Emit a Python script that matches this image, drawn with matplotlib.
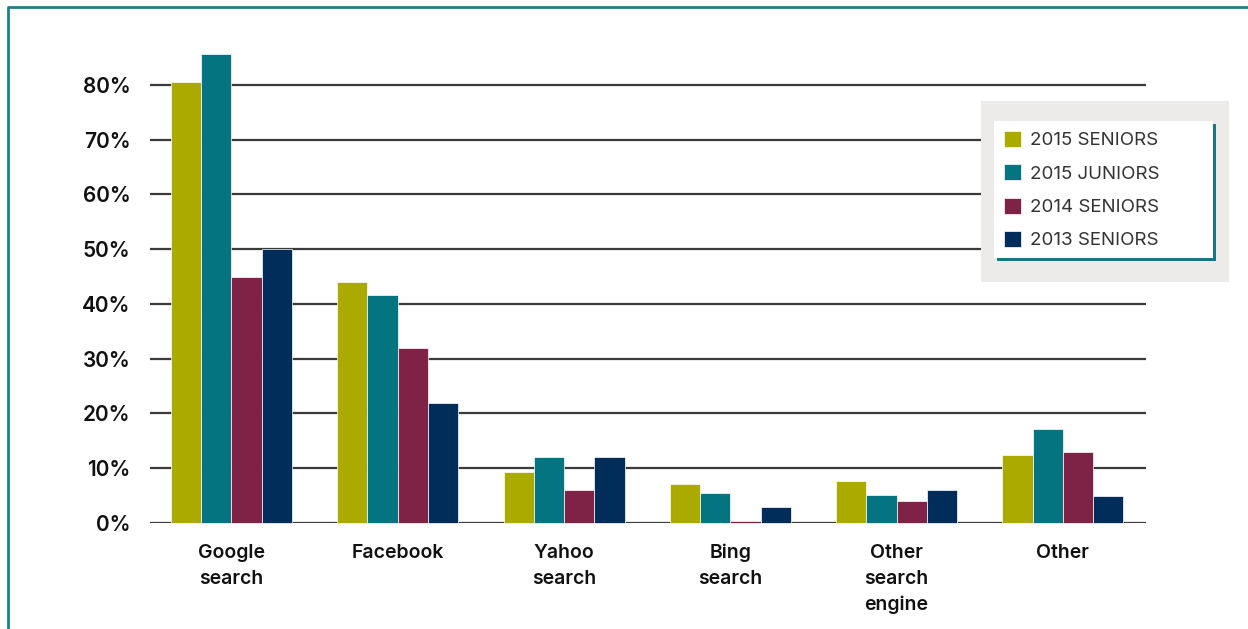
import matplotlib
matplotlib.use('Agg')
import matplotlib.pyplot as plt
from matplotlib.patches import Rectangle
import numpy as np

plt.rcParams['font.family'] = ['Inter', 'DejaVu Sans']

categories = ['Google\nsearch', 'Facebook', 'Yahoo\nsearch', 'Bing\nsearch',
              'Other\nsearch\nengine', 'Other']
series_names = ['2015 SENIORS', '2015 JUNIORS', '2014 SENIORS', '2013 SENIORS']
seniors_2015 = [80.5, 44.0, 9.3, 7.2, 7.7, 12.5]
juniors_2015 = [85.7, 41.6, 12.0, 5.5, 5.1, 17.2]
seniors_2014 = [44.9, 32.0, 6.0, 0.4, 4.0, 13.0]
seniors_2013 = [50.0, 21.9, 12.0, 3.0, 6.0, 5.0]
yticks = [0, 10, 20, 30, 40, 50, 60, 70, 80]
colors = ['#abaa00', '#037480', '#7e2346', '#012d5b']

W, H = 1248, 629
fig = plt.figure(figsize=(W / 100, H / 100), dpi=100)
ax = fig.add_axes([150 / W, 1 - 523 / H, (1146 - 150) / W, (523 - 40) / H])

x = np.arange(len(categories))
bw = 0.182
series = [seniors_2015, juniors_2015, seniors_2014, seniors_2013]
handles = []
for i, (vals, c) in enumerate(zip(series, colors)):
    b = ax.bar(x + (i - 1.5) * bw, vals, bw, color=c, edgecolor='white',
               linewidth=0.5, zorder=3, clip_on=False, label=series_names[i])
    handles.append(b)

ax.set_xlim(-0.49, 5.5)
ax.set_ylim(0, 88.2)
ax.set_yticks(yticks)
ax.set_yticklabels(['%d%%' % v for v in yticks], fontsize=15, fontweight='semibold',
                   color='#111111')
ax.set_xticks(x)
ax.set_xticklabels(categories, fontsize=14, fontweight='semibold', color='#111111',
                   linespacing=1.55, va='top')
ax.tick_params(axis='y', length=0, pad=14)
ax.tick_params(axis='x', length=0, pad=15)
for s in ax.spines.values():
    s.set_visible(False)
ax.yaxis.grid(True, color='#3a3a3a', linewidth=1.6, zorder=1)
ax.set_axisbelow(True)

# outer frame (top and left)
fig.add_artist(plt.Line2D([8 / W, 8 / W, 1], [0, 1 - 7 / H, 1 - 7 / H],
                          color='#1f7f8a', linewidth=2, transform=fig.transFigure))

# legend backdrop
fig.add_artist(Rectangle((981 / W, 1 - 282 / H), (1229 - 981) / W, (282 - 101) / H,
                         transform=fig.transFigure, facecolor='#ecebe9',
                         edgecolor='none', zorder=5))
fig.add_artist(Rectangle((997 / W, 1 - 261 / H), (1216 - 997) / W, (261 - 124) / H,
                         transform=fig.transFigure, facecolor='#137a84',
                         edgecolor='none', zorder=6))
fig.add_artist(Rectangle((994 / W, 1 - 258 / H), (1213 - 994) / W, (258 - 121) / H,
                         transform=fig.transFigure, facecolor='white',
                         edgecolor='none', zorder=7))
leg = fig.legend(handles=handles, loc='upper left',
                 bbox_to_anchor=(1004 / W, 1 - 131 / H), bbox_transform=fig.transFigure,
                 frameon=False, fontsize=13.5, borderpad=0, borderaxespad=0,
                 handlelength=0.92, handleheight=0.92, handletextpad=0.45,
                 labelspacing=0.8)
leg.set_zorder(8)
for t in leg.get_texts():
    t.set_color('#333333')

fig.savefig('out.png', dpi=100)
